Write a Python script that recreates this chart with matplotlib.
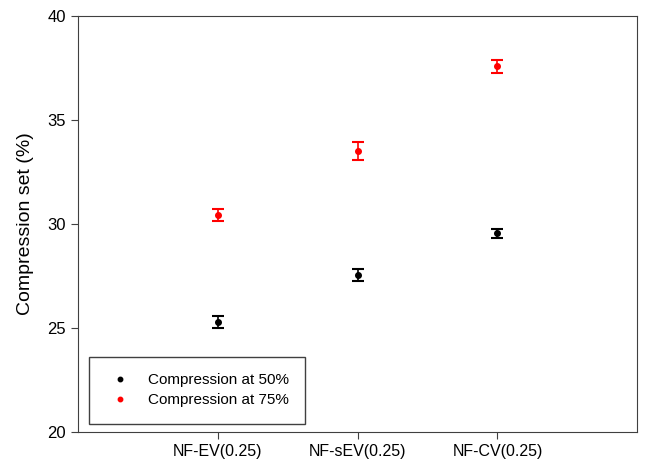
import matplotlib.pyplot as plt
import numpy as np

plt.rcParams['font.family'] = ['Liberation Sans', 'DejaVu Sans']

## data
samples = ["NF-EV(0.25)", "NF-sEV(0.25)", "NF-CV(0.25)"]
cs50 = [25.3, 27.55, 29.55]
cs50_err = [0.28, 0.3, 0.22]
cs75 = [30.42, 33.5, 37.58]
cs75_err = [0.3, 0.42, 0.32]

x = np.arange(1, len(samples) + 1)

fig = plt.figure(figsize=(6.45, 4.66), dpi=100)
ax = fig.add_axes([0.121, 0.073, 0.867, 0.893])

ax.errorbar(x, cs50, yerr=cs50_err, fmt='o', color='black', ms=4,
            capsize=4.5, elinewidth=1.2, capthick=1.5, label="Compression at 50%")
ax.errorbar(x, cs75, yerr=cs75_err, fmt='o', color='red', ms=4,
            capsize=4.5, elinewidth=1.2, capthick=1.5, label="Compression at 75%")

ax.set_xlim(0, 4)
ax.set_ylim(20, 40)
ax.set_xticks(x)
ax.set_xticklabels(samples, fontsize=11.5)
ax.set_yticks([20, 25, 30, 35, 40])
ax.tick_params(axis='y', labelsize=12)
ax.tick_params(direction='out', length=5, color='#404040')
ax.set_ylabel("Compression set (%)", fontsize=14, labelpad=10)
for s in ax.spines.values():
    s.set_color('#404040')

# legend with no error bars shown
h, l = ax.get_legend_handles_labels()
h = [hh[0] for hh in h]
leg = ax.legend(h, l, loc='lower left', bbox_to_anchor=(0.006, 0.002),
                fontsize=11, fancybox=False, edgecolor='#404040',
                framealpha=1, handletextpad=0.8, borderpad=1.05,
                labelspacing=0.4, markerscale=0.8)
leg.get_frame().set_linewidth(1)

fig.savefig("out.png", dpi=100)
